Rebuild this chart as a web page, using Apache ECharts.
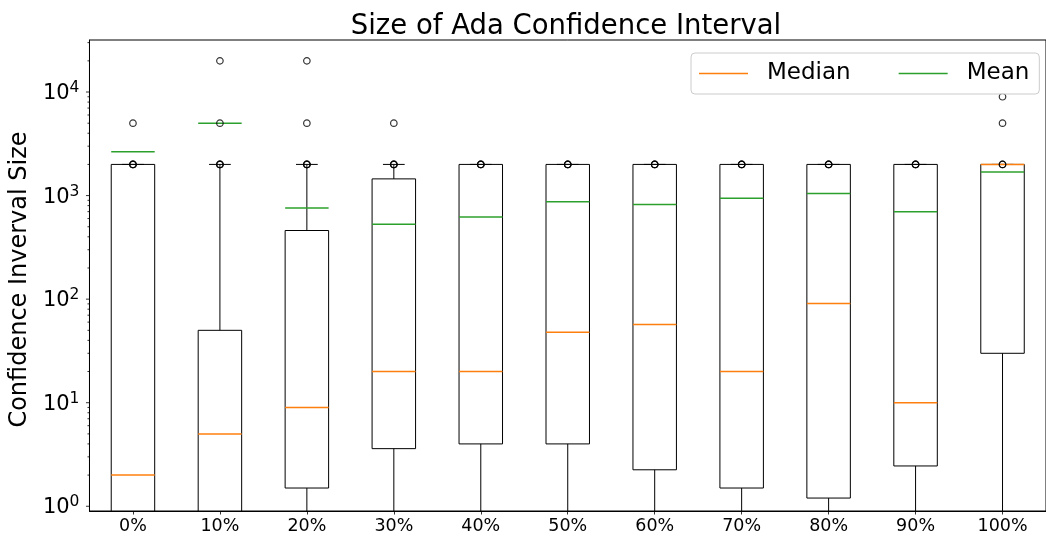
<!DOCTYPE html>
<html>
<head>
<meta charset="utf-8">
<script src="https://cdn.jsdelivr.net/npm/echarts@6/dist/echarts.min.js"></script>
<style>
  html, body { margin: 0; padding: 0; background: #ffffff; }
  #chart { width: 1046px; height: 536px; }
</style>
</head>
<body>
<div id="chart"></div>
<script>
// Share of training data removed, one box per setting
const categories = ['0%', '10%', '20%', '30%', '40%', '50%', '60%', '70%', '80%', '90%', '100%'];

// Box statistics of the confidence-interval size
const whiskerLow  = [0.1, 0.1, 0.1, 0.1, 0.1, 0.1, 0.1, 0.1, 0.1, 0.1, 0.1];
const q1          = [0.5, 0.5, 1.5, 3.6, 4, 4, 2.25, 1.5, 1.2, 2.45, 30];
const median      = [2, 5, 9, 20, 20, 48, 57, 20, 91, 10, 2000];
const q3          = [2000, 50, 460, 1450, 2000, 2000, 2000, 2000, 2000, 2000, 2000];
const whiskerHigh = [2000, 2000, 2000, 2000, 2000, 2000, 2000, 2000, 2000, 2000, 2000];
const mean        = [2650, 5000, 760, 530, 620, 870, 820, 940, 1050, 700, 1690];

// Fliers beyond the whiskers
const outliers = [
  [2000, 2000, 2000, 5000],
  [2000, 2000, 2000, 5000, 20000],
  [2000, 2000, 2000, 5000, 20000],
  [2000, 2000, 2000, 5000],
  [2000, 2000, 2000],
  [2000, 2000, 2000],
  [2000, 2000, 2000],
  [2000, 2000, 2000],
  [2000, 2000, 2000],
  [2000, 2000, 2000],
  [2000, 2000, 5000, 9000]
];

// Log-axis tick positions
const majorTicks = [1, 10, 100, 1000, 10000];
const minorTicks = [2, 3, 4, 5, 6, 7, 8, 9,
                    20, 30, 40, 50, 60, 70, 80, 90,
                    200, 300, 400, 500, 600, 700, 800, 900,
                    2000, 3000, 4000, 5000, 6000, 7000, 8000, 9000,
                    20000, 30000];

const Y_MIN = 0.9;
const Y_MAX = 31800;
const FONT = 'DejaVu Sans';
const ORANGE = '#ff7f0e';
const GREEN = '#2ca02c';

const boxData = categories.map((c, i) =>
  [i, whiskerLow[i], q1[i], median[i], q3[i], whiskerHigh[i], mean[i]]);

const flierData = [];
outliers.forEach((list, i) => list.forEach(v => flierData.push([i, v])));

const tickData = majorTicks.map(v => [0, v, 1]).concat(minorTicks.map(v => [0, v, 0]));

function renderBox(params, api) {
  const i = api.value(0);
  const xc = api.coord([i, 1])[0];
  const band = api.size([1, 1])[0];
  const hw = band * 0.25;
  const cw = band * 0.125;
  const y = k => api.coord([i, api.value(k)])[1];
  const yLo = y(1), yQ1 = y(2), yMed = y(3), yQ3 = y(4), yHi = y(5), yMean = y(6);
  const black = { stroke: '#000', lineWidth: 1, fill: null };
  const line = (x1, y1, x2, y2, style) => ({
    type: 'line', shape: { x1, y1, x2, y2 }, style
  });
  return {
    type: 'group',
    children: [
      line(xc, yQ1, xc, yLo, black),
      line(xc - cw, yLo, xc + cw, yLo, black),
      line(xc, yQ3, xc, yHi, black),
      line(xc - cw, yHi, xc + cw, yHi, black),
      { type: 'rect', shape: { x: xc - hw, y: yQ3, width: 2 * hw, height: yQ1 - yQ3 },
        style: { stroke: '#000', lineWidth: 1, fill: null } },
      line(xc - hw, yMean, xc + hw, yMean, { stroke: GREEN, lineWidth: 1.5 }),
      line(xc - hw, yMed, xc + hw, yMed, { stroke: ORANGE, lineWidth: 1.5 })
    ]
  };
}

function renderTick(params, api) {
  const x0 = params.coordSys.x;
  const yv = api.coord([0, api.value(1)])[1];
  const len = api.value(2) ? 3.5 : 2;
  return {
    type: 'line',
    shape: { x1: x0 - len, y1: yv, x2: x0, y2: yv },
    style: { stroke: '#000', lineWidth: 0.8 }
  };
}

const chart = echarts.init(document.getElementById('chart'), null, { renderer: 'canvas' });

chart.setOption({
  animation: false,
  backgroundColor: '#ffffff',
  title: {
    text: 'Size of Ada Confidence Interval',
    left: 561,
    textAlign: 'center',
    top: 8,
    textStyle: { fontFamily: FONT, fontSize: 27.5, fontWeight: 'normal', color: '#000' }
  },
  legend: {
    left: 691,
    top: 53,
    orient: 'horizontal',
    padding: [8, 10, 8, 8],
    itemGap: 48,
    itemWidth: 49,
    itemHeight: 1.5,
    backgroundColor: 'rgba(255,255,255,0.8)',
    borderColor: '#cccccc',
    borderWidth: 1,
    borderRadius: 4,
    textStyle: { fontFamily: FONT, fontSize: 23, color: '#000', lineHeight: 25, padding: [0, 0, 0, 14] },
    data: [
      { name: 'Median', icon: 'rect', itemStyle: { color: ORANGE } },
      { name: 'Mean', icon: 'rect', itemStyle: { color: GREEN } }
    ]
  },
  grid: {
    left: 88,
    top: 40,
    width: 966,
    height: 471,
    show: true,
    borderColor: '#000',
    borderWidth: 1,
    containLabel: false
  },
  xAxis: {
    type: 'category',
    data: categories,
    boundaryGap: true,
    axisLine: { show: true, lineStyle: { color: '#000', width: 1 } },
    axisTick: { show: true, alignWithLabel: true, length: 3.5, lineStyle: { color: '#000', width: 0.8 } },
    axisLabel: { fontFamily: FONT, fontSize: 17.5, color: '#000', margin: 6 },
    splitLine: { show: false }
  },
  yAxis: {
    type: 'log',
    logBase: 10,
    min: Y_MIN,
    max: Y_MAX,
    name: 'Confidence Inverval Size',
    nameLocation: 'middle',
    nameRotate: 90,
    nameGap: 50,
    nameTextStyle: { fontFamily: FONT, fontSize: 24, color: '#000', padding: [0, 8, 0, 0] },
    axisLine: { show: true, lineStyle: { color: '#000', width: 1 } },
    axisTick: { show: false },
    splitLine: { show: false },
    axisLabel: {
      margin: 10,
      showMinLabel: false,
      showMaxLabel: false,
      formatter: v => {
        const e = Math.log10(v);
        const r = Math.round(e);
        if (Math.abs(e - r) > 1e-6) return '';
        return '{b|10}{s|' + r + '}';
      },
      rich: {
        b: { fontFamily: FONT, fontSize: 21, color: '#000', lineHeight: 24, verticalAlign: 'bottom' },
        s: { fontFamily: FONT, fontSize: 15.5, color: '#000', lineHeight: 15, verticalAlign: 'top' }
      }
    }
  },
  series: [
    {
      name: 'boxes',
      type: 'custom',
      renderItem: renderBox,
      clip: true,
      encode: { x: 0, y: [1, 2, 3, 4, 5, 6] },
      data: boxData,
      z: 2
    },
    {
      name: 'fliers',
      type: 'scatter',
      symbol: 'circle',
      symbolSize: 6.5,
      itemStyle: { color: 'rgba(0,0,0,0)', borderColor: '#000', borderWidth: 1.2 },
      data: flierData,
      z: 3
    },
    {
      name: 'yticks',
      type: 'custom',
      renderItem: renderTick,
      clip: false,
      encode: { x: 0, y: 1 },
      data: tickData,
      z: 4
    },
    { name: 'Median', type: 'line', data: [], itemStyle: { color: ORANGE }, lineStyle: { color: ORANGE } },
    { name: 'Mean', type: 'line', data: [], itemStyle: { color: GREEN }, lineStyle: { color: GREEN } }
  ]
});
</script>
</body>
</html>
